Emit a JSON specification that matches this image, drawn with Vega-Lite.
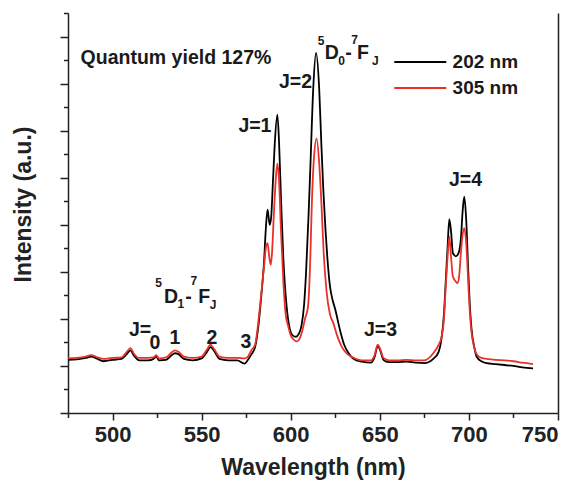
{
  "$schema": "https://vega.github.io/schema/vega-lite/v6.json",
  "width": 490,
  "height": 400,
  "autosize": "none",
  "padding": {"left": 68, "top": 13, "right": 19, "bottom": 69},
  "background": "white",
  "config": {
    "view": {"stroke": null},
    "font": "Liberation Sans",
    "axis": {"domainColor": "#222", "domainWidth": 1.5, "tickColor": "#222", "tickWidth": 1.5, "grid": false, "labelFont": "Liberation Sans", "titleFont": "Liberation Sans"}
  },
  "datasets": {
    "spec": [
      {"w": 475, "i": 1.13, "s": "202 nm"}, {"w": 480, "i": 1.14, "s": "202 nm"}, {"w": 485, "i": 1.17, "s": "202 nm"}, {"w": 488, "i": 1.2, "s": "202 nm"}, {"w": 491, "i": 1.16, "s": "202 nm"}, {"w": 495, "i": 1.1, "s": "202 nm"}, {"w": 500, "i": 1.13, "s": "202 nm"}, {"w": 505, "i": 1.15, "s": "202 nm"}, {"w": 508, "i": 1.25, "s": "202 nm"}, {"w": 510, "i": 1.33, "s": "202 nm"}, {"w": 512, "i": 1.22, "s": "202 nm"}, {"w": 515, "i": 1.12, "s": "202 nm"}, {"w": 520, "i": 1.12, "s": "202 nm"}, {"w": 523, "i": 1.15, "s": "202 nm"}, {"w": 524.5, "i": 1.2, "s": "202 nm"}, {"w": 526, "i": 1.12, "s": "202 nm"}, {"w": 530, "i": 1.13, "s": "202 nm"}, {"w": 533, "i": 1.22, "s": "202 nm"}, {"w": 535, "i": 1.27, "s": "202 nm"}, {"w": 537, "i": 1.25, "s": "202 nm"}, {"w": 540, "i": 1.15, "s": "202 nm"}, {"w": 545, "i": 1.12, "s": "202 nm"}, {"w": 550, "i": 1.16, "s": "202 nm"}, {"w": 553, "i": 1.3, "s": "202 nm"}, {"w": 555, "i": 1.4, "s": "202 nm"}, {"w": 557, "i": 1.32, "s": "202 nm"}, {"w": 560, "i": 1.15, "s": "202 nm"}, {"w": 565, "i": 1.12, "s": "202 nm"}, {"w": 570, "i": 1.12, "s": "202 nm"}, {"w": 574, "i": 1.05, "s": "202 nm"}, {"w": 576, "i": 1.13, "s": "202 nm"}, {"w": 578, "i": 1.25, "s": "202 nm"}, {"w": 580, "i": 1.4, "s": "202 nm"}, {"w": 582, "i": 1.9, "s": "202 nm"}, {"w": 583.5, "i": 2.5, "s": "202 nm"}, {"w": 585, "i": 3.2, "s": "202 nm"}, {"w": 586, "i": 3.9, "s": "202 nm"}, {"w": 587, "i": 4.32, "s": "202 nm"}, {"w": 588.2, "i": 4.0, "s": "202 nm"}, {"w": 589, "i": 4.15, "s": "202 nm"}, {"w": 590, "i": 4.9, "s": "202 nm"}, {"w": 591, "i": 5.7, "s": "202 nm"}, {"w": 592.5, "i": 6.34, "s": "202 nm"}, {"w": 593.5, "i": 5.7, "s": "202 nm"}, {"w": 594.5, "i": 4.6, "s": "202 nm"}, {"w": 595.8, "i": 3.33, "s": "202 nm"}, {"w": 597.7, "i": 2.26, "s": "202 nm"}, {"w": 599.6, "i": 1.77, "s": "202 nm"}, {"w": 601, "i": 1.65, "s": "202 nm"}, {"w": 603, "i": 1.62, "s": "202 nm"}, {"w": 604.5, "i": 1.68, "s": "202 nm"}, {"w": 606, "i": 1.85, "s": "202 nm"}, {"w": 607.5, "i": 2.3, "s": "202 nm"}, {"w": 608.6, "i": 2.98, "s": "202 nm"}, {"w": 610, "i": 4.2, "s": "202 nm"}, {"w": 611, "i": 5.2, "s": "202 nm"}, {"w": 612.6, "i": 6.87, "s": "202 nm"}, {"w": 614.2, "i": 7.65, "s": "202 nm"}, {"w": 616, "i": 6.87, "s": "202 nm"}, {"w": 617.2, "i": 5.7, "s": "202 nm"}, {"w": 618.3, "i": 4.74, "s": "202 nm"}, {"w": 619.5, "i": 3.9, "s": "202 nm"}, {"w": 620.5, "i": 3.33, "s": "202 nm"}, {"w": 622, "i": 2.7, "s": "202 nm"}, {"w": 623.5, "i": 2.4, "s": "202 nm"}, {"w": 625, "i": 2.2, "s": "202 nm"}, {"w": 627.6, "i": 1.77, "s": "202 nm"}, {"w": 630, "i": 1.45, "s": "202 nm"}, {"w": 632.3, "i": 1.28, "s": "202 nm"}, {"w": 635, "i": 1.16, "s": "202 nm"}, {"w": 640, "i": 1.09, "s": "202 nm"}, {"w": 645, "i": 1.07, "s": "202 nm"}, {"w": 647, "i": 1.18, "s": "202 nm"}, {"w": 648.8, "i": 1.42, "s": "202 nm"}, {"w": 650.5, "i": 1.3, "s": "202 nm"}, {"w": 652, "i": 1.13, "s": "202 nm"}, {"w": 655, "i": 1.08, "s": "202 nm"}, {"w": 660, "i": 1.08, "s": "202 nm"}, {"w": 665, "i": 1.09, "s": "202 nm"}, {"w": 670, "i": 1.07, "s": "202 nm"}, {"w": 675, "i": 1.06, "s": "202 nm"}, {"w": 680, "i": 1.15, "s": "202 nm"}, {"w": 683, "i": 1.3, "s": "202 nm"}, {"w": 684.5, "i": 1.55, "s": "202 nm"}, {"w": 686, "i": 2.1, "s": "202 nm"}, {"w": 687, "i": 2.8, "s": "202 nm"}, {"w": 688, "i": 3.5, "s": "202 nm"}, {"w": 689, "i": 4.12, "s": "202 nm"}, {"w": 690, "i": 3.85, "s": "202 nm"}, {"w": 691, "i": 3.4, "s": "202 nm"}, {"w": 692.7, "i": 3.33, "s": "202 nm"}, {"w": 694, "i": 3.38, "s": "202 nm"}, {"w": 695.5, "i": 3.7, "s": "202 nm"}, {"w": 696.5, "i": 4.3, "s": "202 nm"}, {"w": 697.4, "i": 4.6, "s": "202 nm"}, {"w": 698.5, "i": 4.1, "s": "202 nm"}, {"w": 699.6, "i": 3.04, "s": "202 nm"}, {"w": 700.5, "i": 2.3, "s": "202 nm"}, {"w": 701.5, "i": 1.77, "s": "202 nm"}, {"w": 703, "i": 1.4, "s": "202 nm"}, {"w": 704.3, "i": 1.2, "s": "202 nm"}, {"w": 707, "i": 1.1, "s": "202 nm"}, {"w": 710, "i": 1.06, "s": "202 nm"}, {"w": 715, "i": 1.04, "s": "202 nm"}, {"w": 720, "i": 1.02, "s": "202 nm"}, {"w": 725, "i": 1.0, "s": "202 nm"}, {"w": 730, "i": 0.97, "s": "202 nm"}, {"w": 736, "i": 0.95, "s": "202 nm"},
      {"w": 475, "i": 1.16, "s": "305 nm"}, {"w": 480, "i": 1.17, "s": "305 nm"}, {"w": 485, "i": 1.2, "s": "305 nm"}, {"w": 488, "i": 1.23, "s": "305 nm"}, {"w": 491, "i": 1.19, "s": "305 nm"}, {"w": 495, "i": 1.15, "s": "305 nm"}, {"w": 500, "i": 1.17, "s": "305 nm"}, {"w": 505, "i": 1.18, "s": "305 nm"}, {"w": 508, "i": 1.3, "s": "305 nm"}, {"w": 510, "i": 1.38, "s": "305 nm"}, {"w": 512, "i": 1.26, "s": "305 nm"}, {"w": 515, "i": 1.17, "s": "305 nm"}, {"w": 520, "i": 1.17, "s": "305 nm"}, {"w": 523, "i": 1.18, "s": "305 nm"}, {"w": 524.5, "i": 1.23, "s": "305 nm"}, {"w": 526, "i": 1.16, "s": "305 nm"}, {"w": 530, "i": 1.18, "s": "305 nm"}, {"w": 533, "i": 1.28, "s": "305 nm"}, {"w": 535, "i": 1.33, "s": "305 nm"}, {"w": 537, "i": 1.3, "s": "305 nm"}, {"w": 540, "i": 1.2, "s": "305 nm"}, {"w": 545, "i": 1.17, "s": "305 nm"}, {"w": 550, "i": 1.2, "s": "305 nm"}, {"w": 553, "i": 1.35, "s": "305 nm"}, {"w": 555, "i": 1.45, "s": "305 nm"}, {"w": 557, "i": 1.36, "s": "305 nm"}, {"w": 560, "i": 1.2, "s": "305 nm"}, {"w": 565, "i": 1.17, "s": "305 nm"}, {"w": 570, "i": 1.17, "s": "305 nm"}, {"w": 574, "i": 1.16, "s": "305 nm"}, {"w": 576, "i": 1.2, "s": "305 nm"}, {"w": 578, "i": 1.34, "s": "305 nm"}, {"w": 580, "i": 1.45, "s": "305 nm"}, {"w": 582, "i": 2.0, "s": "305 nm"}, {"w": 583.5, "i": 2.55, "s": "305 nm"}, {"w": 585, "i": 3.1, "s": "305 nm"}, {"w": 586, "i": 3.5, "s": "305 nm"}, {"w": 587, "i": 3.61, "s": "305 nm"}, {"w": 588, "i": 3.3, "s": "305 nm"}, {"w": 588.8, "i": 3.15, "s": "305 nm"}, {"w": 589.5, "i": 3.4, "s": "305 nm"}, {"w": 590.5, "i": 4.2, "s": "305 nm"}, {"w": 591.5, "i": 4.9, "s": "305 nm"}, {"w": 592.5, "i": 5.3, "s": "305 nm"}, {"w": 593.5, "i": 4.9, "s": "305 nm"}, {"w": 594.5, "i": 3.9, "s": "305 nm"}, {"w": 595.8, "i": 2.83, "s": "305 nm"}, {"w": 597, "i": 2.15, "s": "305 nm"}, {"w": 598.6, "i": 1.84, "s": "305 nm"}, {"w": 600, "i": 1.65, "s": "305 nm"}, {"w": 602, "i": 1.55, "s": "305 nm"}, {"w": 603.5, "i": 1.52, "s": "305 nm"}, {"w": 605, "i": 1.58, "s": "305 nm"}, {"w": 606.5, "i": 1.75, "s": "305 nm"}, {"w": 608, "i": 2.0, "s": "305 nm"}, {"w": 609.7, "i": 2.26, "s": "305 nm"}, {"w": 611, "i": 3.3, "s": "305 nm"}, {"w": 611.8, "i": 4.39, "s": "305 nm"}, {"w": 613, "i": 5.4, "s": "305 nm"}, {"w": 614.5, "i": 5.83, "s": "305 nm"}, {"w": 616, "i": 5.3, "s": "305 nm"}, {"w": 617.3, "i": 4.39, "s": "305 nm"}, {"w": 618.5, "i": 3.4, "s": "305 nm"}, {"w": 620.2, "i": 2.55, "s": "305 nm"}, {"w": 622, "i": 2.1, "s": "305 nm"}, {"w": 623.9, "i": 1.91, "s": "305 nm"}, {"w": 626, "i": 1.65, "s": "305 nm"}, {"w": 628.6, "i": 1.41, "s": "305 nm"}, {"w": 631, "i": 1.28, "s": "305 nm"}, {"w": 635, "i": 1.18, "s": "305 nm"}, {"w": 640, "i": 1.12, "s": "305 nm"}, {"w": 645, "i": 1.12, "s": "305 nm"}, {"w": 647, "i": 1.22, "s": "305 nm"}, {"w": 648.8, "i": 1.45, "s": "305 nm"}, {"w": 650.5, "i": 1.33, "s": "305 nm"}, {"w": 652, "i": 1.17, "s": "305 nm"}, {"w": 655, "i": 1.12, "s": "305 nm"}, {"w": 660, "i": 1.12, "s": "305 nm"}, {"w": 665, "i": 1.13, "s": "305 nm"}, {"w": 670, "i": 1.12, "s": "305 nm"}, {"w": 675, "i": 1.12, "s": "305 nm"}, {"w": 680, "i": 1.27, "s": "305 nm"}, {"w": 683, "i": 1.45, "s": "305 nm"}, {"w": 684.7, "i": 1.62, "s": "305 nm"}, {"w": 686, "i": 2.0, "s": "305 nm"}, {"w": 687, "i": 2.7, "s": "305 nm"}, {"w": 688, "i": 3.3, "s": "305 nm"}, {"w": 689, "i": 3.75, "s": "305 nm"}, {"w": 690, "i": 3.3, "s": "305 nm"}, {"w": 691, "i": 2.9, "s": "305 nm"}, {"w": 692.5, "i": 2.8, "s": "305 nm"}, {"w": 693.5, "i": 2.76, "s": "305 nm"}, {"w": 694.5, "i": 2.9, "s": "305 nm"}, {"w": 695.5, "i": 3.4, "s": "305 nm"}, {"w": 696.5, "i": 3.8, "s": "305 nm"}, {"w": 697.4, "i": 3.93, "s": "305 nm"}, {"w": 698.5, "i": 3.6, "s": "305 nm"}, {"w": 699.6, "i": 2.8, "s": "305 nm"}, {"w": 700.5, "i": 2.15, "s": "305 nm"}, {"w": 701.5, "i": 1.7, "s": "305 nm"}, {"w": 703, "i": 1.4, "s": "305 nm"}, {"w": 704.3, "i": 1.25, "s": "305 nm"}, {"w": 707, "i": 1.17, "s": "305 nm"}, {"w": 710, "i": 1.15, "s": "305 nm"}, {"w": 715, "i": 1.13, "s": "305 nm"}, {"w": 720, "i": 1.12, "s": "305 nm"}, {"w": 725, "i": 1.1, "s": "305 nm"}, {"w": 730, "i": 1.07, "s": "305 nm"}, {"w": 736, "i": 1.04, "s": "305 nm"}
    ],
    "big": [
      {"w": 535.6, "i": 7.55, "t": "Quantum yield 127%"},
      {"w": 579.9, "i": 6.09, "t": "J=1"},
      {"w": 602.7, "i": 7.04, "t": "J=2"},
      {"w": 650.4, "i": 1.77, "t": "J=3"},
      {"w": 698.1, "i": 4.96, "t": "J=4"},
      {"w": 515.4, "i": 1.77, "t": "J="},
      {"w": 523.8, "i": 1.49, "t": "0"},
      {"w": 535.0, "i": 1.6, "t": "1"},
      {"w": 555.8, "i": 1.6, "t": "2"},
      {"w": 574.9, "i": 1.51, "t": "3"},
      {"w": 532.8, "i": 2.47, "t": "D"},
      {"w": 542.6, "i": 2.47, "t": "-"},
      {"w": 551.4, "i": 2.47, "t": "F"},
      {"w": 623.0, "i": 7.66, "t": "D"},
      {"w": 632.4, "i": 7.66, "t": "-"},
      {"w": 640.6, "i": 7.66, "t": "F"}
    ],
    "small": [
      {"w": 525.8, "i": 2.77, "t": "5"},
      {"w": 538.4, "i": 2.32, "t": "1"},
      {"w": 545.6, "i": 2.8, "t": "7"},
      {"w": 556.4, "i": 2.3, "t": "J"},
      {"w": 617.0, "i": 7.9, "t": "5"},
      {"w": 628.6, "i": 7.47, "t": "0"},
      {"w": 635.9, "i": 7.93, "t": "7"},
      {"w": 647.5, "i": 7.47, "t": "J"}
    ]
  },
  "layer": [
    {
      "data": {"name": "spec"},
      "mark": {"type": "line", "strokeWidth": 1.8, "interpolate": "monotone"},
      "encoding": {
        "x": {"field": "w", "type": "quantitative", "scale": {"domain": [475, 750], "nice": false, "zero": false},
              "axis": {"orient": "bottom", "values": [500, 550, 600, 650, 700, 750], "tickSize": 7, "labelFontSize": 22, "labelFontWeight": "bold", "labelColor": "#222", "labelPadding": 4, "title": "Wavelength (nm)", "titleFontSize": 23, "titleFontWeight": "bold", "titleColor": "#222", "titlePadding": 11}},
        "y": {"field": "i", "type": "quantitative", "scale": {"domain": [0, 8.5], "nice": false, "zero": false},
              "axis": {"orient": "left", "values": [0, 1, 2, 3, 4, 5, 6, 7, 8], "tickSize": 8, "labels": false, "title": "Intensity (a.u.)", "titleFontSize": 23, "titleFontWeight": "bold", "titleColor": "#222", "titleX": -33, "titleY": 191, "titleBaseline": "bottom"}},
        "color": {"field": "s", "type": "nominal", "scale": {"domain": ["202 nm", "305 nm"], "range": ["#000000", "#e8312a"]},
                  "legend": {"orient": "none", "legendX": 342.8, "legendY": 39.5, "title": null, "symbolType": "M-5,0H5", "symbolSize": 108, "symbolStrokeWidth": 2, "labelFontSize": 19, "labelFont": "Liberation Sans", "labelFontWeight": "bold", "labelColor": "#1a1a1a", "labelOffset": 22.8, "rowPadding": 6, "padding": 0}}
      }
    },
    {
      "data": {"name": "big"},
      "mark": {"type": "text", "fontSize": 19.5, "fontWeight": "bold", "color": "#1a1a1a", "baseline": "middle"},
      "encoding": {
        "x": {"field": "w", "type": "quantitative", "axis": {"orient": "bottom", "values": [475, 525, 575, 625, 675, 725], "tickSize": 4.5, "labels": false, "domain": false, "title": null}},
        "y": {"field": "i", "type": "quantitative", "axis": {"orient": "left", "values": [0.5, 1.5, 2.5, 3.5, 4.5, 5.5, 6.5, 7.5, 8.5], "tickSize": 4.5, "labels": false, "domain": false, "title": null}},
        "text": {"field": "t"}
      }
    },
    {
      "data": {"name": "small"},
      "mark": {"type": "text", "fontSize": 12, "fontWeight": "bold", "color": "#1a1a1a", "baseline": "middle"},
      "encoding": {
        "x": {"field": "w", "type": "quantitative", "axis": null},
        "y": {"field": "i", "type": "quantitative", "axis": {"orient": "right", "ticks": false, "labels": false, "title": null}},
        "text": {"field": "t"}
      }
    }
  ],
  "resolve": {"axis": {"x": "independent", "y": "independent"}}
}
